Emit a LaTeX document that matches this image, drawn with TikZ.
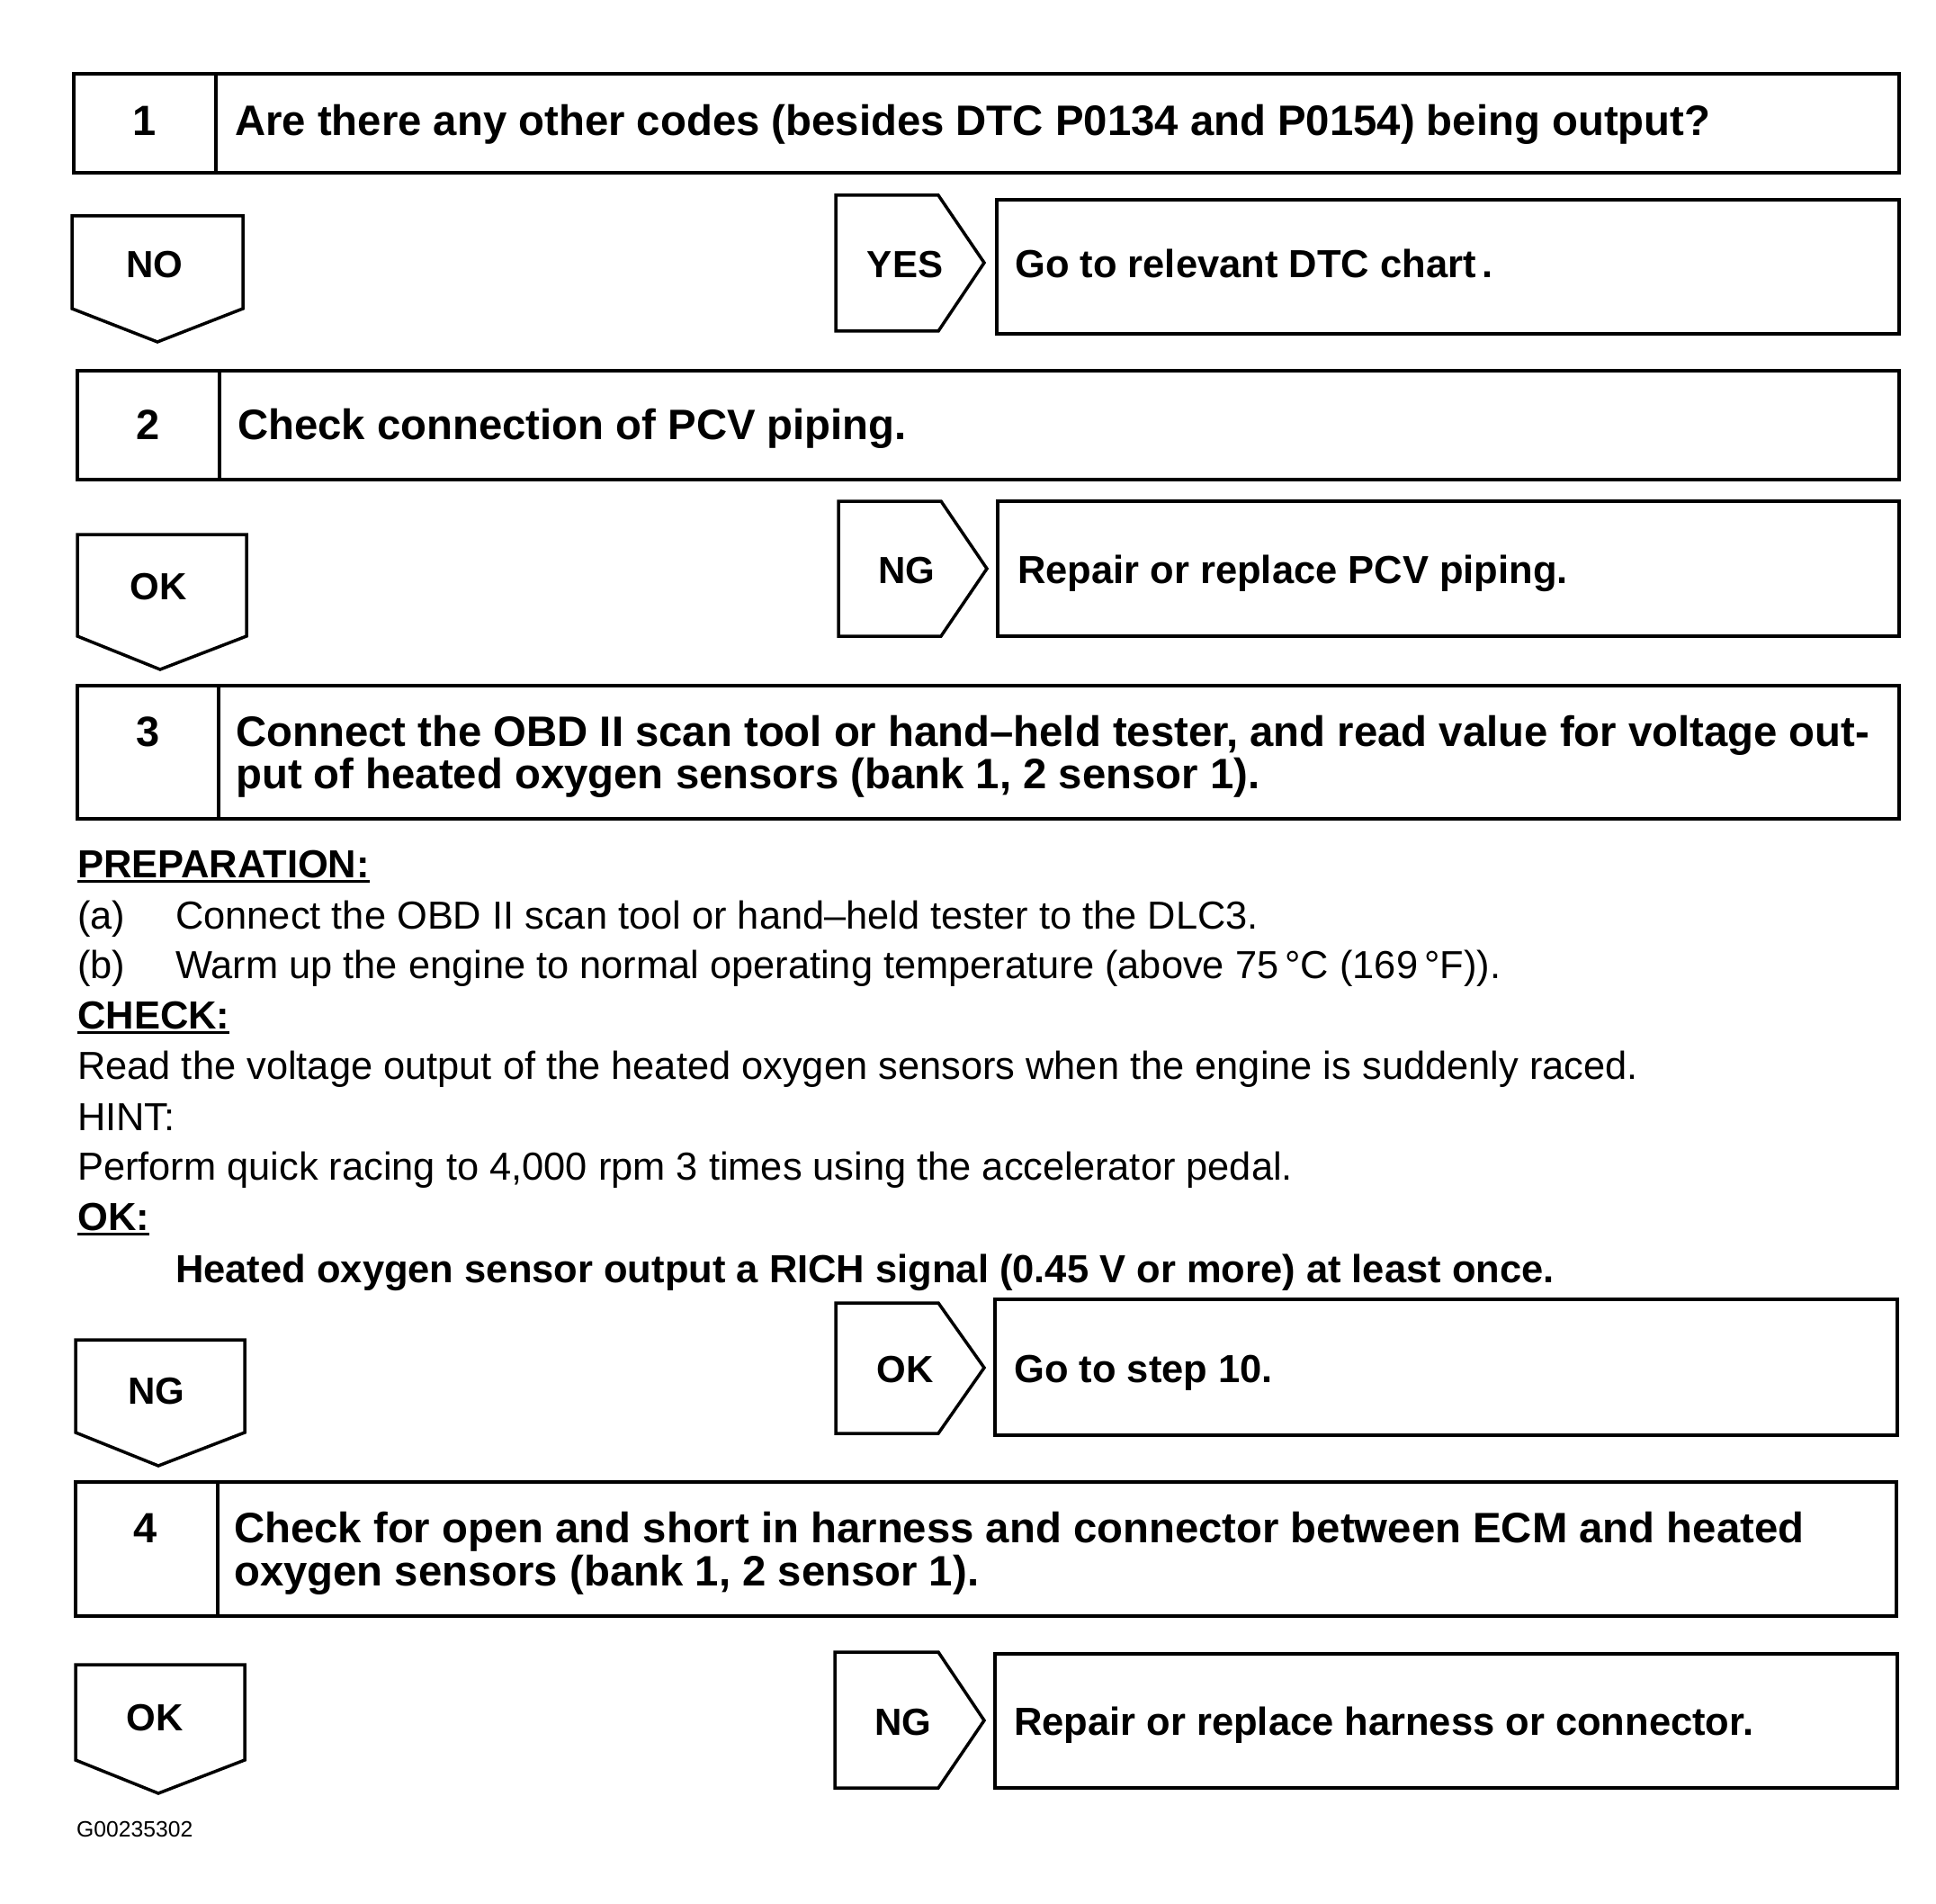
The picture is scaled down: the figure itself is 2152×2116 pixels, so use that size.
\documentclass[tikz,border=0pt]{standalone}
\usepackage{fontspec}
\setmainfont{Liberation Sans}
\newcommand\myul[1]{\setbox0\hbox{#1}\rlap{\rule[-6pt]{\wd0}{3pt}}\box0}
\tikzset{
  frame/.style={draw, line width=3.5pt, line join=miter},
  bigb/.style={font=\bfseries\fontsize{47.3}{56}\selectfont, inner sep=0pt, anchor=base west},
  resb/.style={font=\bfseries\fontsize{43.5}{52}\selectfont, inner sep=0pt, anchor=base west},
  midb/.style={font=\bfseries\fontsize{43.5}{52}\selectfont, inner sep=0pt, anchor=base west},
  reg/.style={font=\fontsize{43.4}{52}\selectfont, inner sep=0pt, anchor=base west},
  lbl/.style={font=\bfseries\fontsize{42}{50}\selectfont, inner sep=0pt, anchor=base},
  num/.style={font=\bfseries\fontsize{47}{56}\selectfont, inner sep=0pt, anchor=base},
}
\begin{document}
\begin{tikzpicture}[x=1pt,y=-1pt]
\useasboundingbox[fill=white] (0,0) rectangle (2152,2116);

% ---------- step 1
\draw[frame] (82,82) rectangle (2111,192);
\draw[frame] (240,82) -- (240,192);
\node[num] (n1) at (161,151) {1};
\node[bigb] (t1) at (261,151) {Are there any other codes (besides DTC P0134 and P0154) being output?};

\draw[frame] (80,240) -- (270,240) -- (270,343) -- (175,380) -- (80,343) -- cycle;
\node[lbl] (no1) at (172,309) {NO};
\draw[frame] (929,217) -- (1043,217) -- (1094,292) -- (1043,368) -- (929,368) -- cycle;
\node[lbl] (yes1) at (1006,309) {YES};
\draw[frame] (1108,222) rectangle (2111,371);
\node[resb] (r1) at (1128,309) {Go to relevant DTC chart\,.};

% ---------- step 2
\draw[frame] (86,412) rectangle (2111,533);
\draw[frame] (244,412) -- (244,533);
\node[num] (n2) at (165,488) {2};
\node[bigb] (t2) at (264,488) {Check connection of PCV piping.};

\draw[frame] (86,594) -- (274,594) -- (274,707) -- (178,744) -- (86,707) -- cycle;
\node[lbl] (ok2) at (176,666) {OK};
\draw[frame] (932,557) -- (1046,557) -- (1097,632) -- (1046,707) -- (932,707) -- cycle;
\node[lbl] (ng2) at (1008,648) {NG};
\draw[frame] (1109,557) rectangle (2111,707);
\node[resb] (r2) at (1131,648) {Repair or replace PCV piping.};

% ---------- step 3
\draw[frame] (86,762) rectangle (2111,910);
\draw[frame] (243,762) -- (243,910);
\node[num] (n3) at (165,829) {3};
\node[bigb] (t3a) at (262,829) {Connect the OBD II scan tool or hand–held tester, and read value for voltage out-};
\node[bigb] (t3b) at (262,876) {put of heated oxygen sensors (bank 1, 2 sensor 1).};

\node[midb] (prep) at (86,975) {\myul{PREPARATION:}};
\node[reg] (pa) at (86,1032) {(a)};
\node[reg] (pat) at (195,1032) {Connect the OBD II scan tool or hand–held tester to the DLC3.};
\node[reg] (pb) at (86,1087) {(b)};
\node[reg] (pbt) at (195,1087) {Warm up the engine to normal operating temperature (above 75\,°C (169\,°F)).};
\node[midb] (chk) at (86,1143) {\myul{CHECK:}};
\node[reg] (rd) at (86,1199) {Read the voltage output of the heated oxygen sensors when the engine is suddenly raced.};
\node[reg] (hint) at (86,1256) {HINT:};
\node[reg] (perf) at (86,1311) {Perform quick racing to 4,000 rpm 3 times using the accelerator pedal.};
\node[midb] (okh) at (86,1367) {\myul{OK:}};
\node[midb] (heat) at (195,1425) {Heated oxygen sensor output a RICH signal (0.45 V or more) at least once.};

\draw[frame] (84,1489) -- (272,1489) -- (272,1592) -- (176,1629) -- (84,1592) -- cycle;
\node[lbl] (ng3) at (174,1560) {NG};
\draw[frame] (929,1448) -- (1043,1448) -- (1094,1520) -- (1043,1593) -- (929,1593) -- cycle;
\node[lbl] (ok3) at (1006,1536) {OK};
\draw[frame] (1106,1444) rectangle (2109,1595);
\node[resb] (r3) at (1127,1536) {Go to step 10.};

% ---------- step 4
\draw[frame] (84,1647) rectangle (2108,1796);
\draw[frame] (242,1647) -- (242,1796);
\node[num] (n4) at (162,1714) {4};
\node[bigb] (t4a) at (260,1714) {Check for open and short in harness and connector between ECM and heated};
\node[bigb] (t4b) at (260,1762) {oxygen sensors (bank 1, 2 sensor 1).};

\draw[frame] (84,1850) -- (272,1850) -- (272,1956) -- (176,1993) -- (84,1956) -- cycle;
\node[lbl] (ok4) at (172,1923) {OK};
\draw[frame] (928,1836) -- (1043,1836) -- (1094,1912) -- (1043,1987) -- (928,1987) -- cycle;
\node[lbl] (ng4) at (1004,1928) {NG};
\draw[frame] (1106,1838) rectangle (2109,1987);
\node[resb] (r4) at (1127,1928) {Repair or replace harness or connector.};

\node[font=\fontsize{24.7}{30}\selectfont, inner sep=0pt, anchor=base west] (code) at (85,2041) {G00235302};
\end{tikzpicture}
\end{document}
